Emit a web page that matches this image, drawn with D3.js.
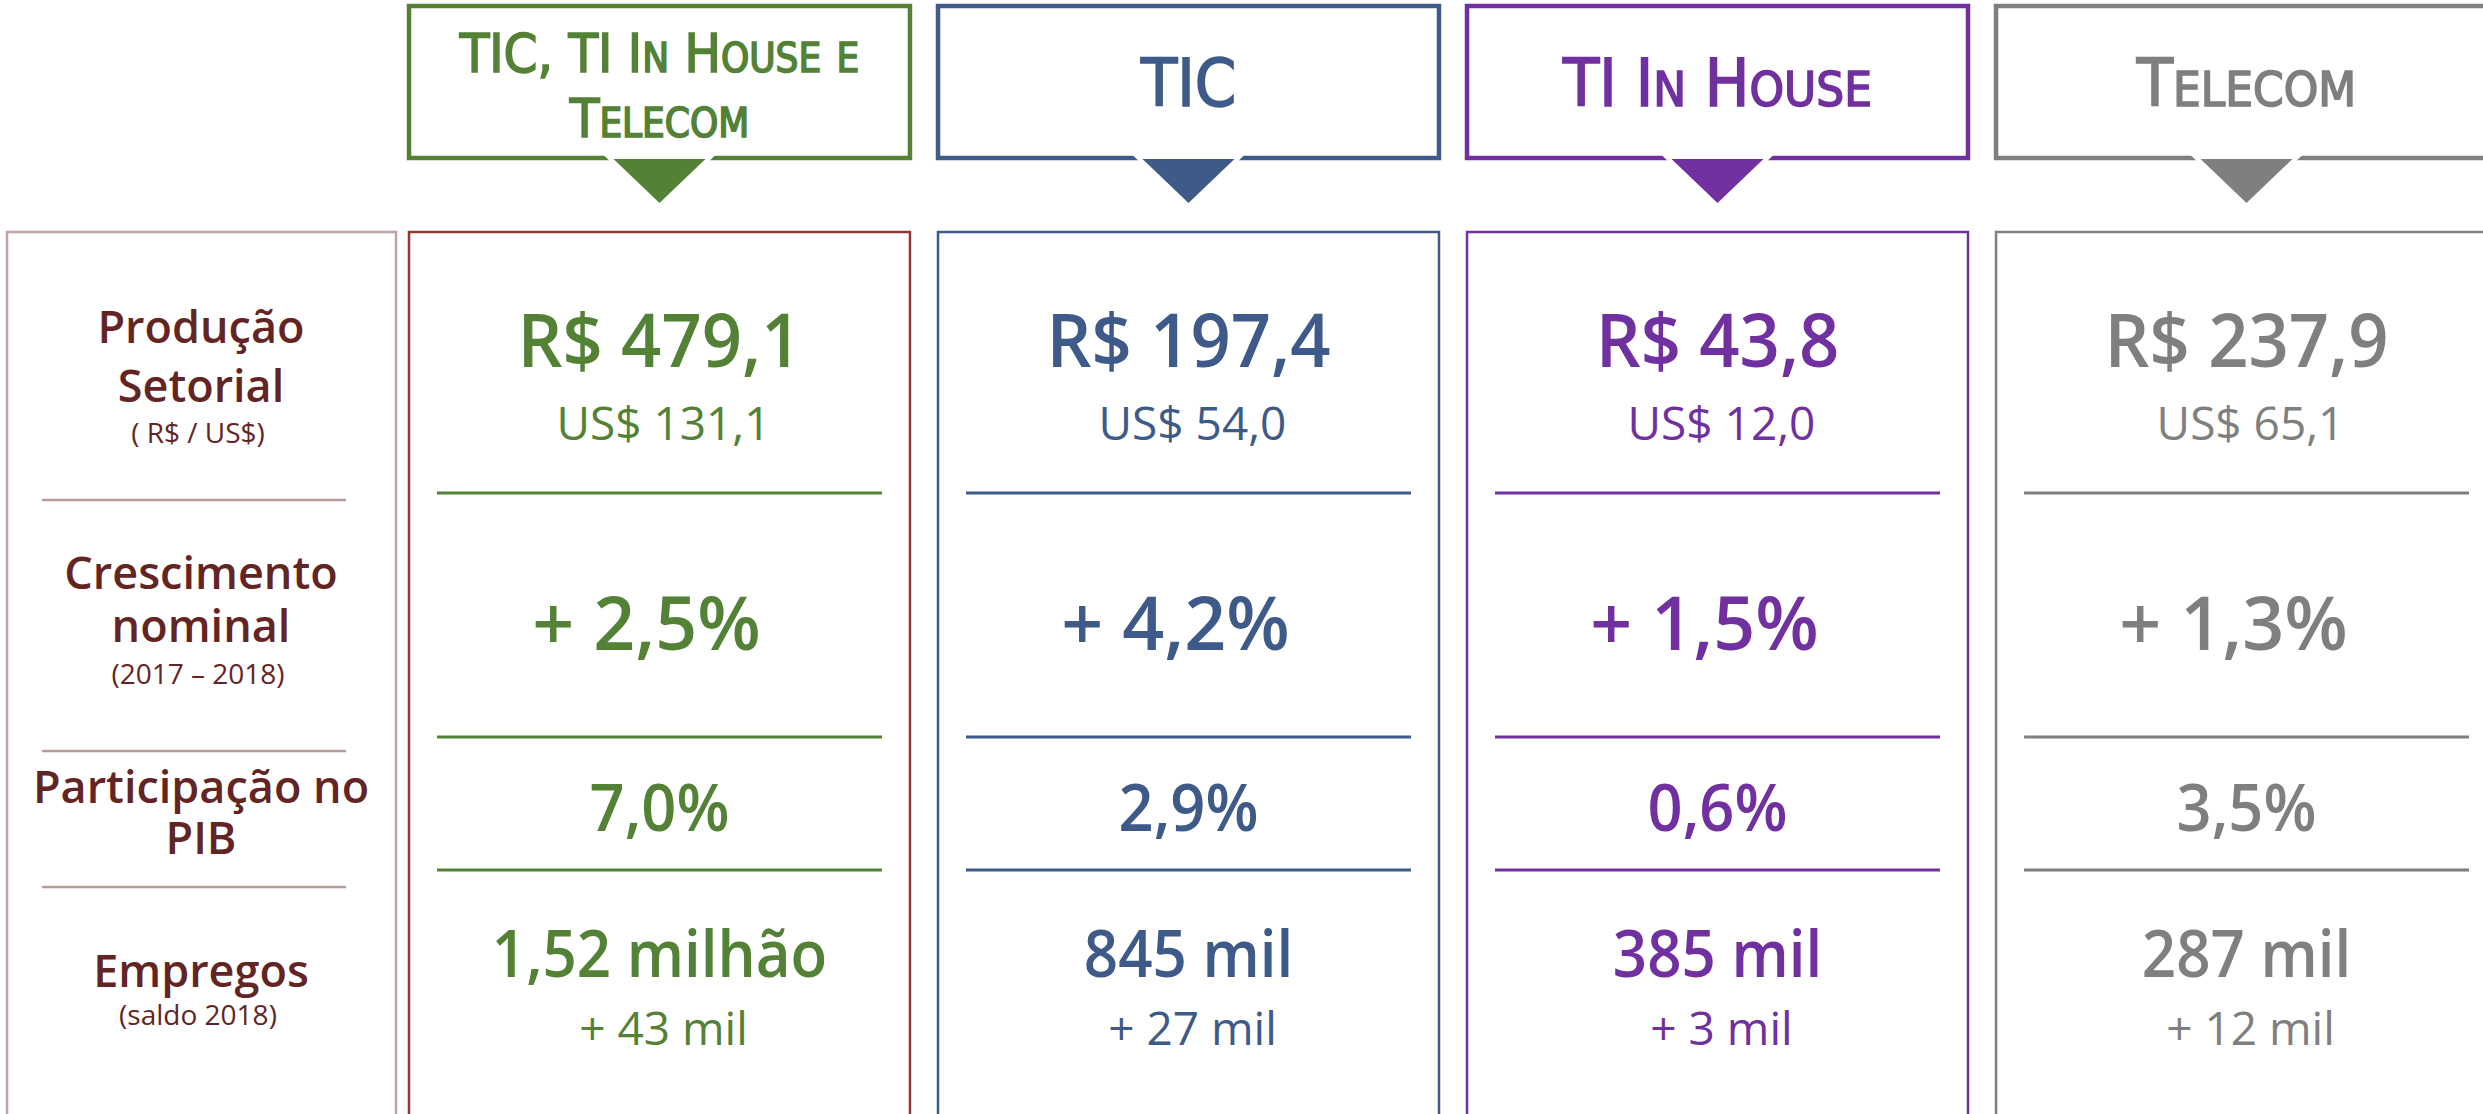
<!DOCTYPE html>
<html>
<head>
<meta charset="utf-8">
<script src="https://cdn.jsdelivr.net/npm/d3@7"></script>
<style>
  body { margin: 0; background: #fff; }
  svg { display: block; }
</style>
</head>
<body>
<div id="chart"></div>
<script>
// ---- data ----
const categories = ["TIC, TI In House e Telecom", "TIC", "TI In House", "Telecom"];
const titleLines = [["TIC, TI In House e", "Telecom"], ["TIC"], ["TI In House"], ["Telecom"]];

const rowKeys   = ["producao", "crescimento", "pib", "empregos"];
const rowLabels = [["Produção", "Setorial"], ["Crescimento", "nominal"], ["Participação no", "PIB"], ["Empregos"]];
const rowNotes  = ["( R$ / US$)", "(2017 – 2018)", "", "(saldo 2018)"];

const producaoBRL   = [479.1, 197.4, 43.8, 237.9];   // R$ bilhões
const producaoUSD   = [131.1, 54.0, 12.0, 65.1];     // US$ bilhões
const crescimento   = [2.5, 4.2, 1.5, 1.3];          // % 2017-2018
const participacao  = [7.0, 2.9, 0.6, 3.5];          // % do PIB
const empregos      = [1520, 845, 385, 287];         // mil
const saldoEmpregos = [43, 27, 3, 12];               // mil

// ---- styles ----
const colors      = ["#538135", "#3E5A88", "#7030A0", "#7F7F7F"];
const boxStroke   = ["#943634", "#3E5A88", "#7030A0", "#7F7F7F"];
const labelColor  = "#632523";
const labelStroke = "#C4A3A3";
const valueFont   = "'Open Sans', 'Noto Sans', sans-serif";
const titleFont   = "'DejaVu Sans Condensed', 'Liberation Sans Narrow', 'Open Sans', sans-serif";

const width = 2483, height = 1114;

const pt = d3.formatLocale({ decimal: ",", thousands: ".", grouping: [3], currency: ["R$ ", ""] });
const f1 = pt.format(".1f"), f2 = pt.format(".2f");

const valueRows = [
  { main: producaoBRL.map(v => "R$ " + f1(v)), sub: producaoUSD.map(v => "US$ " + f1(v)) },
  { main: crescimento.map(v => "+ " + f1(v) + "%") },
  { main: participacao.map(v => f1(v) + "%") },
  { main: empregos.map(v => v >= 1000 ? f2(v / 1000) + " milhão" : v + " mil"),
    sub: saldoEmpregos.map(v => "+ " + v + " mil") }
];

// ---- scales ----
let x = d3.scaleBand()
  .domain(categories)
  .range([409, 2497])
  .paddingInner(0.053);

let colorOf = d3.scaleOrdinal().domain(categories).range(colors);

// row positions (baselines / dividers)
let mainY     = d3.scaleOrdinal().domain(rowKeys).range([367, 650, 831, 977]);
let mainSize  = d3.scaleOrdinal().domain(rowKeys).range([75, 75, 66, 66]);
let mainSx    = d3.scaleOrdinal().domain(rowKeys).range([0.94, 0.98, 0.93, 0.91]);
let mainDx    = d3.scaleOrdinal().domain(rowKeys).range([0, -13, 0, 0]);
let dividerY  = d3.scaleOrdinal().domain(rowKeys.slice(0, 3)).range([493, 737, 870]);
let labelY    = d3.scaleOrdinal().domain(rowKeys).range([343, 589, 803, 987]);
let lineGap   = d3.scaleOrdinal().domain(rowKeys).range([59, 53, 51, 0]);
let noteGap   = d3.scaleOrdinal().domain(rowKeys).range([41, 42, 0, 38]);
let labelDivY = d3.scaleOrdinal().domain(rowKeys.slice(0, 3)).range([500, 751, 887]);

const svg = d3.select("#chart")
  .append("svg")
  .attr("width", width)
  .attr("height", height);

// ---- header boxes ----
const headTop = 6, headH = 152, tipY = 203, triHalf = 46;

let heads = svg.selectAll(".head")
  .data(categories)
  .enter().append("g")
  .attr("class", "head");

heads.append("rect")
  .attr("x", d => x(d))
  .attr("y", headTop)
  .attr("width", x.bandwidth())
  .attr("height", headH)
  .attr("fill", "#fff")
  .attr("stroke", d => colorOf(d))
  .attr("stroke-width", 4.5);

// pointer triangle, white outline cuts a gap in the box border
heads.append("path")
  .attr("d", d => {
    let cx = x(d) + x.bandwidth() / 2, top = headTop + headH + 1;
    return d3.line()([[cx - triHalf, top], [cx + triHalf, top], [cx, tipY]]) + "Z";
  })
  .attr("fill", d => colorOf(d))
  .attr("stroke", "#fff")
  .attr("stroke-width", 8)
  .attr("paint-order", "stroke");

// small caps titles
function smallCaps(textSel, str, size) {
  let runs = str.match(/[a-zà-ÿ]+|[^a-zà-ÿ]+/g);
  runs.forEach(r => {
    let lower = /[a-zà-ÿ]/.test(r);
    textSel.append("tspan")
      .attr("font-size", lower ? size * 0.74 : size)
      .text(lower ? r.toUpperCase() : r);
  });
}

heads.each(function(d, i) {
  let lines = titleLines[i];
  let size = lines.length > 1 ? 54 : 66;
  let gap = 65;
  let cy = headTop + headH / 2;
  lines.forEach((line, j) => {
    let t = d3.select(this).append("text")
      .attr("x", x(d) + x.bandwidth() / 2)
      .attr("y", cy + size * 0.36 + (j - (lines.length - 1) / 2) * gap + (lines.length > 1 ? 3 : 0))
      .attr("text-anchor", "middle")
      .attr("fill", colorOf(d))
      .attr("stroke", colorOf(d))
      .attr("stroke-width", 1.6)
      .attr("font-family", titleFont);
    smallCaps(t, line, size);
  });
});

// ---- body boxes ----
const bodyTop = 232;

svg.append("rect")
  .attr("x", 7)
  .attr("y", bodyTop)
  .attr("width", 389)
  .attr("height", height)
  .attr("fill", "none")
  .attr("stroke", labelStroke)
  .attr("stroke-width", 2.5);

svg.selectAll(".box")
  .data(categories)
  .enter().append("rect")
  .attr("class", "box")
  .attr("x", d => x(d))
  .attr("y", bodyTop)
  .attr("width", x.bandwidth())
  .attr("height", height)
  .attr("fill", "none")
  .attr("stroke", (d, i) => boxStroke[i])
  .attr("stroke-width", 2.5);

// label dividers
svg.selectAll(".label-div")
  .data(rowKeys.slice(0, 3))
  .enter().append("line")
  .attr("x1", 42).attr("x2", 346)
  .attr("y1", d => labelDivY(d)).attr("y2", d => labelDivY(d))
  .attr("stroke", "#B99C9C")
  .attr("stroke-width", 2.5);

// row labels: one text block per row, lines as tspans
rowKeys.forEach((k, r) => {
  let t = svg.append("text")
    .attr("y", labelY(k))
    .attr("fill", labelColor)
    .attr("font-family", valueFont)
    .attr("text-anchor", "middle");
  rowLabels[r].forEach((line, j) => {
    t.append("tspan")
      .attr("x", 201)
      .attr("dy", j === 0 ? 0 : lineGap(k))
      .attr("font-size", 45)
      .attr("font-weight", 600)
      .text(line);
  });
  if (rowNotes[r]) {
    t.append("tspan")
      .attr("x", 198)
      .attr("dy", noteGap(k))
      .attr("font-size", 28)
      .attr("font-weight", 500)
      .text(rowNotes[r]);
  }
});

// value dividers
categories.forEach((c, i) => {
  svg.selectAll(".div-" + i)
    .data(rowKeys.slice(0, 3))
    .enter().append("line")
    .attr("x1", x(c) + 28).attr("x2", x(c) + x.bandwidth() - 28)
    .attr("y1", d => dividerY(d)).attr("y2", d => dividerY(d))
    .attr("stroke", colorOf(c))
    .attr("stroke-width", 3);
});

// values (slightly condensed, like the original semibold face)
rowKeys.forEach((k, r) => {
  let row = valueRows[r];
  svg.selectAll(".val-" + k)
    .data(categories)
    .enter().append("text")
    .attr("transform", d => `translate(${x(d) + x.bandwidth() / 2 + mainDx(k)},${mainY(k)}) scale(${mainSx(k)},1)`)
    .attr("text-anchor", "middle")
    .attr("fill", d => colorOf(d))
    .attr("font-family", valueFont)
    .attr("font-size", mainSize(k))
    .attr("font-weight", 600)
    .text((d, i) => row.main[i]);

  if (row.sub) {
    svg.selectAll(".sub-" + k)
      .data(categories)
      .enter().append("text")
      .attr("x", d => x(d) + x.bandwidth() / 2 + 4)
      .attr("y", mainY(k) + (r === 0 ? 73 : 68))
      .attr("text-anchor", "middle")
      .attr("fill", d => colorOf(d))
      .attr("font-family", valueFont)
      .attr("font-size", 46)
      .attr("font-weight", 400)
      .text((d, i) => row.sub[i]);
  }
});
</script>
</body>
</html>
